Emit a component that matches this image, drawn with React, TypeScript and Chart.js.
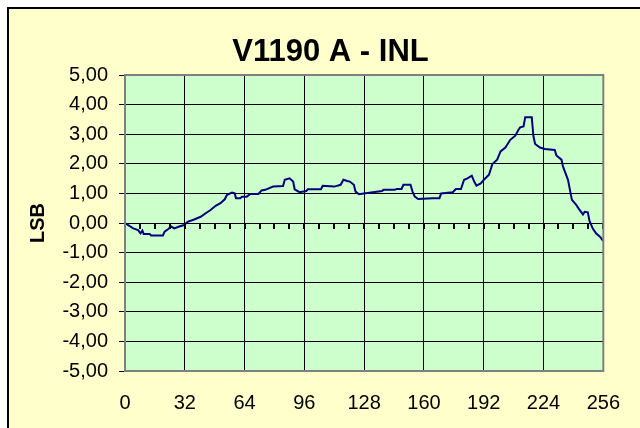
import React, { useEffect, useRef } from "react";
import { Chart, registerables } from "chart.js";

Chart.register(...registerables);

const TITLE = "V1190 A - INL";
const Y_LABEL = "LSB";

// channel (x) and INL value in LSB (y)
const CHANNELS = [
  0, 4.4, 7, 8.3, 9.3, 10, 13.2, 14, 20.3, 21.2, 23, 24.7, 26.4, 29, 31.7,
  33.5, 37, 40.5, 43.2, 45.8, 48.5, 51.1, 53.4, 54.6, 57.3, 58.7, 59.4, 61.7,
  62.6, 65.2, 67, 71.4, 73.1, 75, 79.3, 84.6, 85.5, 88.1, 90, 90.8, 93.4, 97,
  97.8, 104.9, 105.8, 112, 115.4, 116.9, 119, 120.3, 122.5, 123.4, 125.2,
  127.8, 137.5, 138.4, 144.5, 145.4, 148, 149, 152.8, 153.9, 155.1, 156.9,
  164.8, 168.3, 169.2, 175.4, 177.1, 179.8, 181.5, 183.3, 185.6, 186.9, 188.1,
  190.4, 192.1, 194.8, 196.6, 199.2, 201, 203.6, 206.2, 208.9, 210.6, 211.5,
  213.3, 214.2, 217.7, 218.6, 219.5, 222.1, 224.7, 230, 230.9, 233.6, 234.4,
  237.1, 238.5, 239.2, 241.5, 243.3, 245.1, 246, 247.7, 248.6, 250.3, 252.1,
  254.2, 256,
];
const INL = [
  0.0, -0.18, -0.24, -0.35, -0.26, -0.37, -0.37, -0.42, -0.42, -0.29, -0.21,
  -0.12, -0.18, -0.12, -0.07, 0.04, 0.12, 0.21, 0.33, 0.44, 0.58, 0.67, 0.8,
  0.95, 1.03, 1.0, 0.84, 0.84, 0.89, 0.89, 0.98, 0.98, 1.1, 1.12, 1.23, 1.25,
  1.46, 1.51, 1.4, 1.14, 1.04, 1.08, 1.14, 1.14, 1.26, 1.23, 1.29, 1.46, 1.42,
  1.4, 1.29, 1.06, 0.97, 1.0, 1.08, 1.12, 1.12, 1.15, 1.15, 1.29, 1.29, 1.06,
  0.89, 0.81, 0.84, 0.84, 1.0, 1.04, 1.15, 1.15, 1.46, 1.51, 1.6, 1.4, 1.26,
  1.34, 1.46, 1.63, 1.99, 2.14, 2.42, 2.55, 2.81, 2.95, 3.15, 3.23, 3.26, 3.57,
  3.57, 2.93, 2.67, 2.55, 2.5, 2.47, 2.28, 2.14, 1.91, 1.46, 1.0, 0.78, 0.61,
  0.44, 0.29, 0.38, 0.36, 0.07, -0.18, -0.35, -0.46, -0.61,
];

const X_MIN = 0;
const X_MAX = 256;
const X_STEP = 32;
const X_MINOR_STEP = 8;
const Y_MIN = -5;
const Y_MAX = 5;
const Y_STEP = 1;

const FONT = '"Liberation Sans", Arial, sans-serif';

export default function App() {
  const ref = useRef<HTMLCanvasElement>(null);

  useEffect(() => {
    const canvas = ref.current;
    if (!canvas) return;

    const decor = {
      id: "decor",
      beforeDraw(chart: any) {
        const { ctx, chartArea: a, width, height } = chart;
        ctx.save();
        ctx.fillStyle = "#FFFFCC";
        ctx.fillRect(0, 0, width, height);
        ctx.fillStyle = "#CCFFCC";
        ctx.fillRect(a.left, a.top, a.right - a.left, a.bottom - a.top);
        ctx.fillStyle = "#000";
        ctx.fillRect(0, 0, width, 2);
        ctx.fillRect(0, 0, 2, height);

        ctx.fillStyle = "#000";
        ctx.font = `bold 31px ${FONT}`;
        ctx.textAlign = "center";
        ctx.textBaseline = "alphabetic";
        ctx.fillText(TITLE, 323.5, 54);

        ctx.translate(29.5, (a.top + a.bottom) / 2);
        ctx.rotate(-Math.PI / 2);
        ctx.font = `bold 20px ${FONT}`;
        ctx.fillText(Y_LABEL, 0, 7);
        ctx.restore();
      },
      afterDraw(chart: any) {
        const { ctx, chartArea: a } = chart;
        const xs = chart.scales.x;
        const ys = chart.scales.y;
        const y0 = Math.round(ys.getPixelForValue(0));
        ctx.save();
        ctx.fillStyle = "#000";
        for (let v = X_MIN; v <= X_MAX; v += X_MINOR_STEP) {
          const x = Math.round(xs.getPixelForValue(v));
          ctx.fillRect(x - 1, y0, 2, 6);
        }
        ctx.strokeStyle = "#808080";
        ctx.lineWidth = 2;
        ctx.strokeRect(a.left, a.top, a.right - a.left, a.bottom - a.top);
        ctx.restore();
      },
    };

    const chart = new Chart(canvas, {
      type: "line",
      data: {
        datasets: [
          {
            data: CHANNELS.map((x, i) => ({ x, y: INL[i] })),
            borderColor: "#000080",
            borderWidth: 2,
            pointRadius: 0,
            fill: false,
            tension: 0,
          },
        ],
      },
      options: {
        responsive: false,
        animation: false,
        devicePixelRatio: 1,
        layout: { padding: { top: 68, right: 31, bottom: 0, left: 0 } },
        plugins: {
          legend: { display: false },
          title: { display: false },
          tooltip: { enabled: false },
        },
        scales: {
          x: {
            type: "linear",
            min: X_MIN,
            max: X_MAX,
            ticks: {
              stepSize: X_STEP,
              color: "#000",
              font: { family: FONT, size: 20 },
              padding: 20,
              maxRotation: 0,
              autoSkip: false,
              callback: (v: any) => String(v),
            },
            grid: { color: "#000", lineWidth: 1, drawTicks: false },
            border: { display: false },
            afterFit(s: any) {
              s.height = 57;
            },
          },
          y: {
            min: Y_MIN,
            max: Y_MAX,
            ticks: {
              stepSize: Y_STEP,
              color: "#000",
              font: { family: FONT, size: 20 },
              padding: 11,
              callback: (v: any) => Number(v).toFixed(2).replace(".", ","),
            },
            grid: { color: "#000", lineWidth: 1, tickLength: 6 },
            border: { display: false },
            afterFit(s: any) {
              s.width = 118;
            },
          },
        },
      },
      plugins: [decor],
    } as any);

    return () => chart.destroy();
  }, []);

  return (
    <div style={{ position: "absolute", left: 7, top: 7, width: 633, height: 421 }}>
      <canvas ref={ref} width={633} height={421} style={{ display: "block" }} />
    </div>
  );
}
